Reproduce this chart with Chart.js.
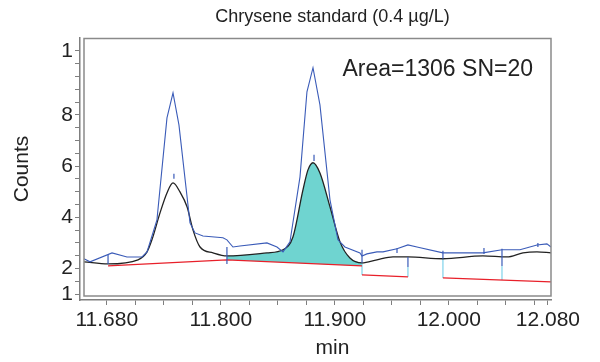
<!DOCTYPE html>
<html>
<head>
<meta charset="utf-8">
<script src="https://cdn.jsdelivr.net/npm/chart.js@4.4.1/dist/chart.umd.min.js"></script>
<style>
  html, body { margin: 0; padding: 0; background: #fff; }
  #wrap { width: 600px; height: 362px; }
</style>
</head>
<body>
<div id="wrap"><canvas id="chrom" width="600" height="362"></canvas></div>
<script>
// raw trace (blue): time in min, counts
const rawTimes = [11.6800, 11.6853, 11.7046, 11.7177, 11.7309, 11.7353, 11.7440, 11.7528, 11.7581, 11.7633, 11.7730, 11.7774,
    11.7844, 11.8019, 11.8054, 11.8107, 11.8168, 11.8405, 11.8493, 11.8546, 11.8607, 11.8695, 11.8756, 11.8809,
    11.8870, 11.8958, 11.9028, 11.9089, 11.9221, 11.9239, 11.9282, 11.9370, 11.9423, 11.9546, 11.9642, 11.9721,
    11.9949, 12.0098, 12.0300, 12.0467, 12.0625, 12.0774, 12.0861, 12.0897];
const rawCounts = [2.38, 2.26, 2.61, 2.45, 2.45, 2.65, 3.90, 7.88, 8.86, 7.61, 3.78, 3.39,
    3.27, 3.20, 3.12, 2.84, 2.88, 3.00, 2.84, 2.65, 3.04, 5.58, 8.90, 9.84,
    8.39, 4.68, 3.12, 2.84, 2.61, 2.49, 2.57, 2.65, 2.65, 2.77, 2.92, 2.84,
    2.61, 2.61, 2.61, 2.73, 2.73, 2.92, 2.96, 2.84];

// smoothed trace (black)
const smoothTimes = [11.6800, 11.7011, 11.7274, 11.7353, 11.7396, 11.7467, 11.7528, 11.7581, 11.7642, 11.7704,
    11.7756, 11.7818, 11.7932, 11.8054, 11.8405, 11.8546, 11.8633, 11.8721, 11.8765, 11.8809,
    11.8870, 11.8958, 11.9046, 11.9133, 11.9239, 11.9370, 11.9511, 11.9642, 11.9949, 12.0300,
    12.0511, 12.0651, 12.0774, 12.0897];
const smoothCounts = [2.26, 2.18, 2.34, 2.65, 3.12, 4.17, 4.95, 5.34, 4.99, 4.41,
    3.51, 2.84, 2.61, 2.49, 2.61, 2.73, 3.23, 5.07, 5.85, 6.13,
    5.73, 4.41, 3.04, 2.41, 2.22, 2.34, 2.45, 2.45, 2.38, 2.49,
    2.45, 2.61, 2.65, 2.61];

// integration baseline under the two peaks (red)
const baseTimes = [11.7011, 11.8054, 11.9239];
const baseCounts = [2.10, 2.34, 2.10];
// integrated peak window (teal)
const peakStart = 11.8054;
const peakEnd = 11.9239;

// detached baseline pieces (red)
const dropStartTimes = [11.9239, 11.9949];
const dropStartCounts = [1.75, 1.63];
const dropEndTimes = [11.9642, 12.0897];
const dropEndCounts = [1.67, 1.48];

// peak marks (dark blue) and drop lines (light blue)
const markTimes = [11.7011, 11.7589, 11.8054, 11.8818, 11.9239, 11.9546, 11.9642, 11.9949, 12.0309, 12.0467, 12.0782];
const markTop = [2.53, 5.70, 2.84, 6.44, 2.73, 2.80, 2.45, 2.69, 2.80, 2.77, 3.00];
const markBottom = [2.18, 5.50, 2.18, 6.20, 2.22, 2.61, 2.06, 2.38, 2.57, 2.10, 2.84];
const dropMarkTimes = [11.9239, 11.9642, 11.9949, 12.0467];
const dropMarkTop = [2.22, 2.06, 2.38, 2.10];
const dropMarkBottom = [1.75, 1.67, 1.63, 1.55];

// axes
const xMin = 11.6765;
const xMax = 12.0897;
const xMinorStart = 11.700;
const xMinorStep = 0.025;
const xTickValues = [11.700, 11.800, 11.900, 12.000, 12.087];
const xTickLabels = ['11.680', '11.800', '11.900', '12.000', '12.080'];
const yMin = 0.77;
const yMax = 11.0;
const yTickValues = [1, 2, 4, 6, 8, 10.5];
const yTickLabels = ['1', '2', '4', '6', '8', '1'];

const titleText = 'Chrysene standard (0.4 µg/L)';
const noteText = 'Area=1306 SN=20';
const xTitle = 'min';
const yTitle = 'Counts';

const FONT = "'Liberation Sans', Arial, Helvetica, sans-serif";
const INK = '#222';
const AXIS = '#7f7f7f';

function pairs(ts, vs) {
    return ts.map((t, i) => ({ x: t, y: vs[i] }));
}

// separate strokes from (t0,a) to (t1,b), broken with null
function strokes(t0, a, t1, b) {
    const out = [];
    t0.forEach((t, i) => {
        out.push({ x: t, y: a[i] }, { x: t1[i], y: b[i] }, { x: t1[i], y: null });
    });
    return out;
}

const smoothPts = pairs(smoothTimes, smoothCounts);
const peakPts = smoothPts.filter(p => p.x >= peakStart - 1e-6 && p.x <= peakEnd + 1e-6);

// frame around the plot plus title, x title and annotation text
const framePlugin = {
    id: 'frame',
    afterDatasetsDraw(chart) {
        const { ctx, chartArea: a } = chart;
        ctx.save();
        ctx.strokeStyle = '#8a8a8a';
        ctx.lineWidth = 1.5;
        ctx.strokeRect(a.left + 4, a.top + 0.5, a.right - a.left - 4, a.bottom - a.top - 4.5);
        ctx.restore();
    },
    afterDraw(chart) {
        const { ctx, chartArea: a } = chart;
        const mid = (a.left + 4 + a.right) / 2 + 15;
        ctx.save();
        ctx.fillStyle = INK;
        ctx.textBaseline = 'middle';
        ctx.textAlign = 'center';
        ctx.font = '18px ' + FONT;
        ctx.fillText(titleText, mid, 17);
        ctx.font = '21px ' + FONT;
        ctx.fillText(xTitle, mid, 348);
        ctx.textAlign = 'right';
        ctx.font = '23px ' + FONT;
        ctx.fillText(noteText, a.right - 18, 70);
        ctx.restore();
    }
};

const ctx = document.getElementById('chrom').getContext('2d');
new Chart(ctx, {
    type: 'line',
    data: {
        datasets: [
            {
                data: strokes(markTimes, markTop, markTimes, markBottom),
                borderColor: '#3a5bb8', borderWidth: 1.2, pointRadius: 0, spanGaps: false
            },
            {
                data: pairs(rawTimes, rawCounts),
                borderColor: '#3a5bb8', borderWidth: 1.1, pointRadius: 0, tension: 0
            },
            {
                data: smoothPts,
                borderColor: '#222', borderWidth: 1.3, pointRadius: 0, cubicInterpolationMode: 'monotone'
            },
            {
                data: pairs(baseTimes, baseCounts),
                borderColor: '#e8202a', borderWidth: 1.2, pointRadius: 0
            },
            {
                data: strokes(dropStartTimes, dropStartCounts, dropEndTimes, dropEndCounts),
                borderColor: '#e8202a', borderWidth: 1.2, pointRadius: 0, spanGaps: false
            },
            {
                data: strokes(dropMarkTimes, dropMarkTop, dropMarkTimes, dropMarkBottom),
                borderColor: '#7fd3ea', borderWidth: 1.2, pointRadius: 0, spanGaps: false
            },
            {
                data: peakPts,
                borderWidth: 0, pointRadius: 0, cubicInterpolationMode: 'monotone',
                backgroundColor: '#6fd4d0', fill: 3
            }
        ]
    },
    options: {
        responsive: false,
        animation: false,
        devicePixelRatio: 1,
        layout: { padding: { left: 0, right: 49, top: 38, bottom: 0 } },
        plugins: { legend: { display: false }, tooltip: { enabled: false }, title: { display: false } },
        scales: {
            x: {
                type: 'linear',
                min: xMin,
                max: xMax,
                afterBuildTicks: (s) => {
                    const t = [];
                    for (let k = 0; k <= 15; k++) t.push({ value: xMinorStart + xMinorStep * k });
                    t.push({ value: xTickValues[xTickValues.length - 1] });
                    s.ticks = t;
                },
                afterFit: (s) => { s.height = 62; },
                ticks: {
                    autoSkip: false, maxRotation: 0, padding: 3, color: INK,
                    font: { family: FONT, size: 21 },
                    callback: (v) => {
                        const i = xTickValues.findIndex(x => Math.abs(x - v) < 1e-6);
                        return i >= 0 ? xTickLabels[i] : '';
                    }
                },
                grid: { drawOnChartArea: false, tickLength: 5, tickColor: AXIS, tickWidth: 1 },
                border: { color: AXIS, width: 1.5 },
                title: { display: false }
            },
            y: {
                type: 'linear',
                min: yMin,
                max: yMax,
                afterBuildTicks: (s) => {
                    const t = [];
                    for (let v = 1; v <= 10.5; v += 0.5) t.push({ value: v });
                    s.ticks = t;
                },
                afterFit: (s) => { s.width = 80; },
                ticks: {
                    autoSkip: false, padding: 2, color: INK,
                    font: { family: FONT, size: 21 },
                    callback: (v) => {
                        const i = yTickValues.indexOf(v);
                        return i >= 0 ? yTickLabels[i] : '';
                    }
                },
                grid: { drawOnChartArea: false, tickLength: 5, tickColor: AXIS, tickWidth: 1 },
                border: { color: AXIS, width: 1.5 },
                title: { display: true, text: yTitle, color: INK, font: { family: FONT, size: 21 }, padding: { top: 10, bottom: 0 } }
            }
        }
    },
    plugins: [framePlugin]
});
</script>
</body>
</html>
